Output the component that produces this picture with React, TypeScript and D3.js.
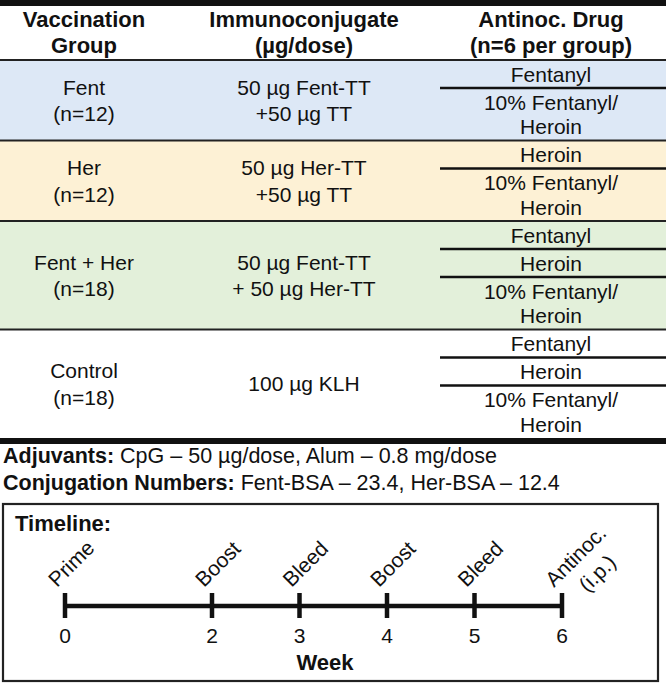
import React from 'react';
import * as d3 from 'd3';

// Table content
const headers = [
  ['Vaccination', 'Group'],
  ['Immunoconjugate', '(µg/dose)'],
  ['Antinoc. Drug', '(n=6 per group)'],
];
const groups = ['Fent', 'Her', 'Fent + Her', 'Control'];
const groupN = ['(n=12)', '(n=12)', '(n=18)', '(n=18)'];
const conjugates = [
  ['50 µg Fent-TT', '+50 µg TT'],
  ['50 µg Her-TT', '+50 µg TT'],
  ['50 µg Fent-TT', '+ 50 µg Her-TT'],
  ['100 µg KLH'],
];
const drugs = [
  [['Fentanyl'], ['10% Fentanyl/', 'Heroin']],
  [['Heroin'], ['10% Fentanyl/', 'Heroin']],
  [['Fentanyl'], ['Heroin'], ['10% Fentanyl/', 'Heroin']],
  [['Fentanyl'], ['Heroin'], ['10% Fentanyl/', 'Heroin']],
];
const bandColors = ['#dde8f6', '#fdf1d5', '#e3f0da', '#ffffff'];

// Footnotes
const notes = [
  { label: 'Adjuvants:', text: ' CpG – 50 µg/dose, Alum – 0.8 mg/dose' },
  { label: 'Conjugation Numbers:', text: ' Fent-BSA – 23.4, Her-BSA – 12.4' },
];

// Timeline
const weeks = [0, 2, 3, 4, 5, 6];
const events = [['Prime'], ['Boost'], ['Bleed'], ['Boost'], ['Bleed'], ['Antinoc.', '(i.p.)']];

const W = 666;
const H = 683;
const FONT = '"Liberation Sans", Arial, Helvetica, sans-serif';
const INK = '#111';

const App: React.FC = () => {
  // column centres
  const col = d3.scaleOrdinal<number, number>().domain([0, 1, 2]).range([84, 304, 551]);
  const drugX0 = 440;

  // row layout
  const lineH = 24.5;
  const subH = (n: number) => lineH * n + 3.5;
  const bandH = drugs.map(d => d3.sum(d, s => subH(s.length)));
  const tableTop = 60;
  const bandTop = [tableTop, ...Array.from(d3.cumsum(bandH)).map(v => tableTop + v)];
  const tableBottom = bandTop[bandTop.length - 1];

  // timeline scale (non-uniform spacing between week 0 and 2)
  const x = d3.scaleLinear().domain([0, 2, 6]).range([65, 212, 562]);
  const axisY = 606;

  return (
    <svg width={W} height={H} style={{ position: 'absolute', left: 0, top: 0 }} fontFamily={FONT}>
      <rect width={W} height={H} fill="#fff" />

      {/* coloured bands */}
      {groups.map((g, i) => (
        <rect key={g} x={0} y={bandTop[i]} width={W} height={bandH[i]} fill={bandColors[i]} />
      ))}

      {/* top rule */}
      <rect x={0} y={0} width={W} height={6} fill={INK} />

      {/* headers */}
      {headers.map((h, j) => (
        <text key={j} x={col(j)} textAnchor="middle" fontSize={22} fontWeight="bold" fill={INK}>
          {h.map((t, k) => (
            <tspan key={k} x={col(j)} y={19 + k * 26.5} dy="0.36em">{t}</tspan>
          ))}
        </text>
      ))}

      {/* band separators */}
      {bandTop.slice(0, -1).map((y, i) => (
        <line key={i} x1={0} x2={W} y1={y} y2={y} stroke="#222" strokeWidth={2.2} />
      ))}

      {/* group + conjugate columns */}
      {groups.map((g, i) => {
        const c = bandTop[i] + bandH[i] / 2;
        const conj = conjugates[i];
        return (
          <g key={g} fontSize={21} fill={INK} textAnchor="middle">
            <text x={col(0)} y={c - 13.25} dy="0.36em">{g}</text>
            <text x={col(0)} y={c + 13.25} dy="0.36em">{groupN[i]}</text>
            {conj.map((t, k) => (
              <text key={k} x={col(1)} y={c + (k - (conj.length - 1) / 2) * 26.5} dy="0.36em">{t}</text>
            ))}
          </g>
        );
      })}

      {/* drug sub-rows */}
      {drugs.map((d, i) => {
        let y0 = bandTop[i];
        return (
          <g key={i} fontSize={21} fill={INK} textAnchor="middle">
            {d.map((s, k) => {
              const top = y0;
              const h = subH(s.length);
              y0 += h;
              const c = top + h / 2;
              return (
                <g key={k}>
                  {k > 0 && (
                    <line x1={drugX0} x2={W} y1={top} y2={top} stroke={INK} strokeWidth={2.6} />
                  )}
                  {s.map((t, m) => (
                    <text key={m} x={col(2)} y={c + (m - (s.length - 1) / 2) * lineH} dy="0.36em">{t}</text>
                  ))}
                </g>
              );
            })}
          </g>
        );
      })}

      {/* bottom rule */}
      <rect x={0} y={tableBottom} width={W} height={6} fill={INK} />

      {/* notes */}
      {notes.map((n, i) => (
        <text key={i} x={3} y={tableBottom + 17 + i * 27} dy="0.36em" fontSize={21.5} fill={INK}>
          <tspan fontWeight="bold">{n.label}</tspan>
          <tspan>{n.text}</tspan>
        </text>
      ))}

      {/* timeline box */}
      <rect x={3} y={504} width={655} height={177} fill="none" stroke="#222" strokeWidth={2.2} />
      <text x={15} y={523} dy="0.36em" fontSize={22} fontWeight="bold" fill={INK}>Timeline:</text>

      <line x1={x(0)} x2={x(6)} y1={axisY} y2={axisY} stroke={INK} strokeWidth={4.5} />
      {weeks.map((w, i) => (
        <g key={i}>
          <line x1={x(w)} x2={x(w)} y1={axisY - 13} y2={axisY + 12} stroke={INK} strokeWidth={4.5} />
          <text x={x(w)} y={axisY + 29} dy="0.36em" textAnchor="middle" fontSize={21} fill={INK}>{w}</text>
          <text transform={`translate(${x(w) - 8},${axisY - 18}) rotate(-45)`} fontSize={21} fill={INK}>
            {events[i].map((t, k) => (
              <tspan key={k} x={k * 20} y={k * 27.5}>{t}</tspan>
            ))}
          </text>
        </g>
      ))}
      <text x={325} y={662} dy="0.36em" textAnchor="middle" fontSize={22} fontWeight="bold" fill={INK}>Week</text>
    </svg>
  );
};

export default App;
